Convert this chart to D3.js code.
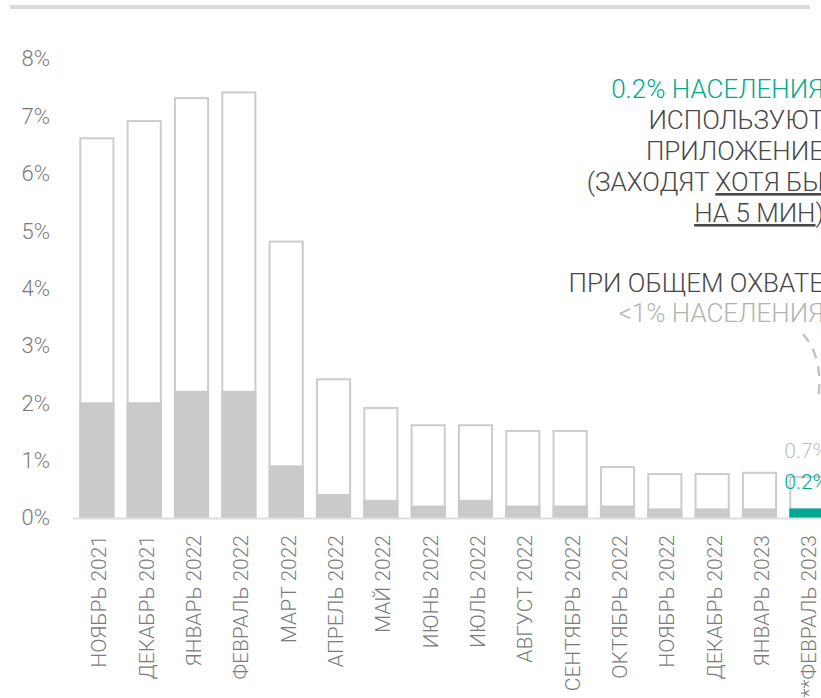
<!DOCTYPE html>
<html>
<head>
<meta charset="utf-8">
<script src="https://cdn.jsdelivr.net/npm/d3@7"></script>
<style>
  body { margin: 0; background: #fff; overflow: hidden; }
  svg { display: block; font-family: Roboto, "Noto Sans", sans-serif; }
</style>
</head>
<body>
<div class="graph"></div>
<script>
(() => {
var months = ['НОЯБРЬ 2021', 'ДЕКАБРЬ 2021', 'ЯНВАРЬ 2022', 'ФЕВРАЛЬ 2022', 'МАРТ 2022', 'АПРЕЛЬ 2022',
    'МАЙ 2022', 'ИЮНЬ 2022', 'ИЮЛЬ 2022', 'АВГУСТ 2022', 'СЕНТЯБРЬ 2022', 'ОКТЯБРЬ 2022',
    'НОЯБРЬ 2022', 'ДЕКАБРЬ 2022', 'ЯНВАРЬ 2023', '**ФЕВРАЛЬ 2023'];
// total reach, % of population
var reach = [6.6, 6.9, 7.3, 7.4, 4.8, 2.4, 1.9, 1.6, 1.6, 1.5, 1.5, 0.87, 0.75, 0.75, 0.77, 0.7];
// app users (at least 5 min), % of population
var users = [2.0, 2.0, 2.2, 2.2, 0.9, 0.4, 0.3, 0.2, 0.3, 0.2, 0.2, 0.2, 0.15, 0.15, 0.15, 0.15];
var yTicks = [0, 1, 2, 3, 4, 5, 6, 7, 8];
var lastReachLabel = '0.7%',
    lastUsersLabel = '0.2%';

var width = 821,
    height = 698;

var grey = '#cccccc',
    fillGrey = '#cacaca',
    teal = '#00a98f',
    textGrey = '#7a7a7a',
    dark = '#474747';

var svg = d3.select('div.graph')
    .append('svg')
        .attr('width', width)
        .attr('height', height);

// top rule
svg.append('line')
    .attr('x1', 10).attr('x2', 810)
    .attr('y1', 7).attr('y2', 7)
    .style('stroke', '#dcdcdc')
    .style('stroke-width', 4);

var step = 47.33, pad = 0.3;
var x = d3.scaleBand()
    .domain(months)
    .range([80.3, 80.3 + step * (months.length - pad)])
    .paddingInner(pad)
    .paddingOuter(0);

var y = d3.scaleLinear()
    .domain([0, 8])
    .range([517, 58]);

var yAxis = svg.append('g')
    .attr('transform', 'translate(50,0)')
    .call(d3.axisLeft(y).tickValues(yTicks).tickFormat((d) => d + '%').tickSize(0).tickPadding(0));
yAxis.select('.domain').remove();
yAxis.selectAll('text')
    .attr('dy', '0.36em')
    .style('font-family', 'Roboto, sans-serif')
    .style('font-weight', 300)
    .style('font-size', '22px')
    .style('fill', textGrey);

var data = months.map((m, i) => ({month: m, reach: reach[i], users: users[i], last: i === months.length - 1}));

// outer bars (total reach)
svg.append('g')
    .selectAll('rect')
    .data(data)
    .enter()
    .append('rect')
        .attr('x', (d) => x(d.month))
        .attr('y', (d) => y(d.reach))
        .attr('width', x.bandwidth())
        .attr('height', (d) => y(0) - y(d.reach))
        .style('fill', '#fff')
        .style('stroke', grey)
        .style('stroke-width', 2);

// inner bars (app users)
svg.append('g')
    .selectAll('rect')
    .data(data)
    .enter()
    .append('rect')
        .attr('x', (d) => x(d.month) - 1)
        .attr('y', (d) => y(d.users))
        .attr('width', x.bandwidth() + 2)
        .attr('height', (d) => y(0) - y(d.users) + 1)
        .style('fill', (d) => d.last ? teal : fillGrey);

// baseline
svg.append('line')
    .attr('x1', 73).attr('x2', width)
    .attr('y1', y(0) + 1.5).attr('y2', y(0) + 1.5)
    .style('stroke', '#dedede')
    .style('stroke-width', 2);

// month labels
svg.append('g')
    .selectAll('text')
    .data(months)
    .enter()
    .append('text')
        .attr('transform', (d) => 'translate(' + (x(d) + x.bandwidth() / 2 + 2) + ',535) rotate(-90)')
        .attr('dy', '0.35em')
        .attr('text-anchor', 'end')
        .style('font-size', '21px')
        .style('font-weight', 300)
        .style('fill', textGrey)
        .text((d) => d);

// value labels on the last bar
var lastX = x(months[months.length - 1]) - 6;
svg.append('text')
    .attr('x', lastX)
    .attr('y', y(reach[reach.length - 1]) - 19)
    .style('font-size', '21px')
    .style('font-weight', 300)
    .style('fill', '#bdbdbd')
    .text(lastReachLabel);
svg.append('text')
    .attr('x', lastX)
    .attr('y', y(reach[reach.length - 1]) + 12)
    .style('font-size', '21px')
    .style('font-weight', 300)
    .style('fill', teal)
    .text(lastUsersLabel);

// annotation
var note = svg.append('g')
    .attr('text-anchor', 'end')
    .style('font-size', '26px')
    .style('font-weight', 300);
var noteX = 824;
note.append('text').attr('x', noteX).attr('y', 98).style('fill', teal).text('0.2% НАСЕЛЕНИЯ');
note.append('text').attr('x', noteX).attr('y', 129).style('fill', dark).text('ИСПОЛЬЗУЮТ');
note.append('text').attr('x', noteX).attr('y', 160).style('fill', dark).text('ПРИЛОЖЕНИЕ');
var l4 = note.append('text').attr('x', noteX).attr('y', 191).style('fill', dark);
l4.append('tspan').text('(ЗАХОДЯТ ');
l4.append('tspan').style('text-decoration', 'underline').text('ХОТЯ БЫ');
var l5 = note.append('text').attr('x', noteX).attr('y', 222).style('fill', dark);
l5.append('tspan').style('text-decoration', 'underline').text('НА 5 МИН');
l5.append('tspan').text(')');
note.append('text').attr('x', noteX).attr('y', 292).style('fill', dark).text('ПРИ ОБЩЕМ ОХВАТЕ');
note.append('text').attr('x', noteX).attr('y', 322).style('fill', '#b3b3b3').text('<1% НАСЕЛЕНИЯ');

// dashed pointer arc
svg.append('path')
    .attr('d', 'M803,334 Q824,358 818,400')
    .style('fill', 'none')
    .style('stroke', '#c4c4c4')
    .style('stroke-width', 2.5)
    .style('stroke-dasharray', '10,8');
})();
</script>
</body>
</html>
